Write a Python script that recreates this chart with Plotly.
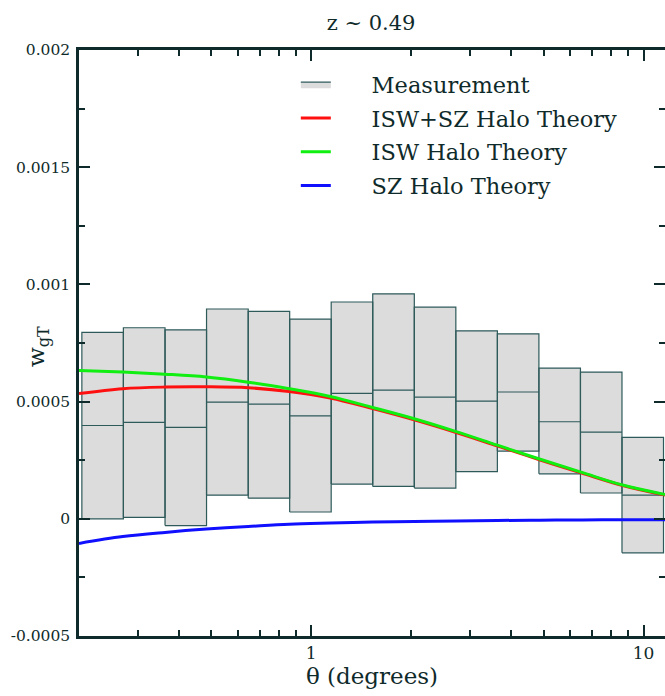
import math
import plotly.graph_objects as go

# ---- data ----
bin_edges = [0.204, 0.272, 0.363, 0.484, 0.646, 0.861, 1.148, 1.531,
             2.042, 2.723, 3.631, 4.842, 6.457, 8.610, 11.48]
meas_hi = [7.95, 8.15, 8.06, 8.95, 8.85, 8.52, 9.25, 9.60, 9.03, 8.02, 7.89, 6.43, 6.26, 3.47]
meas_mid = [3.98, 4.11, 3.90, 4.98, 4.89, 4.39, 5.35, 5.49, 5.19, 5.02, 5.41, 4.14, 3.70, 1.01]
meas_lo = [0.00, 0.06, -0.29, 1.01, 0.88, 0.29, 1.48, 1.38, 1.31, 2.01, 2.89, 1.92, 1.10, -1.45]
scale = 1e-4

theta = [0.2, 0.271, 0.363, 0.483, 0.646, 0.858, 1.14, 1.53, 2.04, 2.73, 3.63, 4.86, 6.52, 8.65, 11.6]
isw_sz = [5.34, 5.55, 5.62, 5.63, 5.59, 5.43, 5.15, 4.70, 4.22, 3.68, 3.11, 2.52, 1.95, 1.42, 1.01]
isw = [6.33, 6.26, 6.17, 6.05, 5.83, 5.55, 5.22, 4.75, 4.27, 3.72, 3.14, 2.55, 1.98, 1.44, 1.04]
sz = [-1.05, -0.76, -0.58, -0.44, -0.33, -0.23, -0.18, -0.14, -0.11, -0.09, -0.07, -0.06, -0.05, -0.04, -0.04]

title_text = "z ~ 0.49"
x_title = "θ (degrees)"
y_title = "w<sub>gT</sub>"
series_names = ["Measurement", "ISW+SZ Halo Theory", "ISW Halo Theory", "SZ Halo Theory"]
y_ticks = [-0.0005, 0, 0.0005, 0.001, 0.0015, 0.002]
y_tick_labels = ["-0.0005", "0", "0.0005", "0.001", "0.0015", "0.002"]
x_ticks = [1, 10]
x_tick_labels = ["1", "10"]
x_minor = [0.3, 0.4, 0.5, 0.6, 0.7, 0.8, 0.9, 2, 3, 4, 5, 6, 7, 8, 9]

FONT = "DejaVu Serif"
INK = "#0f2a2a"
EDGE = "#2e5a5a"
PAD = "\u00a0" * 5

fig = go.Figure()

# boxes
bx, by = [], []
mx, my = [], []
for i in range(len(meas_hi)):
    x0, x1 = bin_edges[i], bin_edges[i + 1]
    lo, hi, mid = meas_lo[i] * scale, meas_hi[i] * scale, meas_mid[i] * scale
    bx += [x0, x1, x1, x0, x0, None]
    by += [lo, lo, hi, hi, lo, None]
    mx += [x0, x1, None]
    my += [mid, mid, None]

fig.add_trace(go.Scatter(x=bx, y=by, mode="lines", fill="toself",
                         fillcolor="#dcdcdc", line=dict(color=EDGE, width=1.2),
                         name=PAD + series_names[0], legendgroup="a"))
fig.add_trace(go.Scatter(x=mx, y=my, mode="lines", line=dict(color=EDGE, width=1.2),
                         showlegend=False, hoverinfo="skip", legendgroup="a"))

fig.add_trace(go.Scatter(x=theta, y=[v * scale for v in isw_sz], mode="lines",
                         line=dict(color="#ff1010", width=3, shape="spline"),
                         name=PAD + series_names[1], legendgroup="b"))
fig.add_trace(go.Scatter(x=theta, y=[v * scale for v in isw], mode="lines",
                         line=dict(color="#11ee11", width=3, shape="spline"),
                         name=PAD + series_names[2], legendgroup="c"))
fig.add_trace(go.Scatter(x=theta, y=[v * scale for v in sz], mode="lines",
                         line=dict(color="#1010ff", width=3, shape="spline"),
                         name=PAD + series_names[3], legendgroup="d"))

plot_w = 665 - 79
plot_h = 696 - 50 - 60

fig.update_layout(
    width=665, height=696,
    margin=dict(l=79, r=0, t=50, b=60),
    paper_bgcolor="white", plot_bgcolor="white",
    font=dict(family=FONT, color=INK),
    title=dict(text=title_text, x=0.558, xanchor="center", y=0.968, yanchor="middle",
               font=dict(size=21, family=FONT, color=INK)),
    showlegend=True,
    legend=dict(x=0.37, y=1 - 13 / plot_h, xanchor="left", yanchor="top",
                bgcolor="rgba(0,0,0,0)", font=dict(size=22.5, family=FONT, color=INK),
                tracegroupgap=1.5, itemwidth=30),
    xaxis=dict(type="log", range=[math.log10(0.2), math.log10(11.6)], automargin=False,
               tickvals=x_ticks, ticktext=x_tick_labels,
               ticks="inside", ticklen=11, tickwidth=2, tickcolor=INK,
               minor=dict(tickvals=x_minor, ticks="inside", ticklen=6, tickwidth=2, tickcolor=INK),
               showline=True, linecolor=INK, linewidth=2.5, mirror="ticks",
               showgrid=False, zeroline=False,
               tickfont=dict(size=17, family=FONT, color=INK),
               title=dict(text=x_title, font=dict(size=23, family=FONT, color=INK), standoff=0)),
    yaxis=dict(range=[-0.0005, 0.002], tickvals=y_ticks, ticktext=y_tick_labels, automargin=False,
               ticks="inside", ticklen=11, tickwidth=2, tickcolor=INK,
               minor=dict(dtick=0.00025, ticks="inside", ticklen=6, tickwidth=2, tickcolor=INK),
               showline=True, linecolor=INK, linewidth=2.5, mirror="ticks",
               showgrid=False, zeroline=False, ticklabelstandoff=3,
               tickfont=dict(size=15.5, family=FONT, color=INK)),
    annotations=[dict(text=y_title, textangle=-90, xref="paper", yref="paper",
                      x=(38 - 79) / plot_w, y=(636 - 347) / plot_h,
                      xanchor="center", yanchor="middle", showarrow=False,
                      font=dict(size=23, family=FONT, color=INK))],
)

fig.write_html("out.html")
